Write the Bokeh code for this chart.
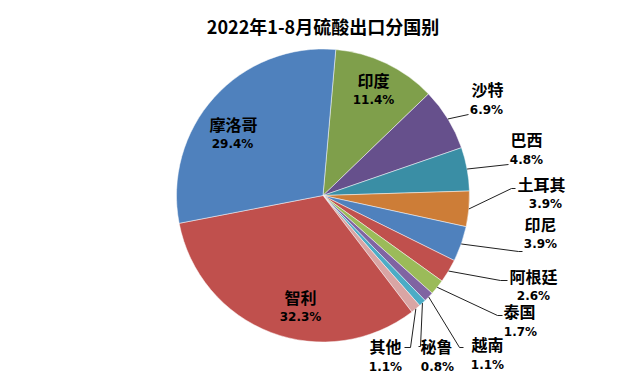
import math
from bokeh.plotting import figure
from bokeh.models import Range1d, ColumnDataSource
from bokeh.embed import file_html
from bokeh.resources import INLINE
from bokeh.core.properties import value

# ---- data (clockwise from the top) ----
countries = ["印度", "沙特", "巴西", "土耳其", "印尼", "阿根廷", "泰国", "越南", "秘鲁", "其他", "智利", "摩洛哥"]
shares = [11.4, 6.9, 4.8, 3.9, 3.9, 2.6, 1.7, 1.1, 0.8, 1.1, 32.3, 29.4]
colors = ["#7F9F4B", "#66508C", "#3A8EA5", "#CD7D37", "#4F81BD", "#C0504D",
          "#9BBB59", "#8064A2", "#4BACC6", "#D9A5A4", "#C0504D", "#4F81BD"]
title_text = "2022年1-8月硫酸出口分国别"

# ---- layout (page pixel coordinates of the reference) ----
W, H = 624, 378
def X(xr): return xr
def Y(yr): return H - yr

CX, CY, R = 322.5, 195.0, 146.5
START_DEG = 5.0

# label centres (name line, percent line) in page px
label_pos = {
    "印度": (373, 79, 373, 99),
    "沙特": (487, 88, 486, 109),
    "巴西": (526, 138, 526, 159),
    "土耳其": (541, 183, 545, 203),
    "印尼": (540, 223, 540, 243),
    "阿根廷": (533, 275, 533, 295),
    "泰国": (519, 310, 520, 331),
    "越南": (487, 343, 487, 364),
    "秘鲁": (436, 345, 437, 366),
    "其他": (385, 345, 385, 366),
    "智利": (300, 296, 300, 316),
    "摩洛哥": (233, 123, 232, 143),
}
# leader elbow/end points in page px (labels not listed sit inside their slice)
leader_pts = {
    "沙特": [(468, 114)],
    "巴西": [(508, 164)],
    "土耳其": [(511, 188), (515, 188)],
    "印尼": [(518, 251), (522, 251)],
    "阿根廷": [(500, 280), (507, 280)],
    "泰国": [(497, 315), (502, 315)],
    "越南": [(459, 347), (463, 347)],
    "秘鲁": [(420, 346), (418, 346)],
    "其他": [(410, 347), (404, 347)],
}

total = sum(shares)
starts, ends, mids = [], [], []
cum = 0.0
for s in shares:
    a0 = START_DEG + 360.0 * cum / total
    a1 = START_DEG + 360.0 * (cum + s) / total
    starts.append(math.radians(90 - a1))
    ends.append(math.radians(90 - a0))
    mids.append((a0 + a1) / 2)
    cum += s

p = figure(width=W, height=H, x_range=Range1d(0, W), y_range=Range1d(0, H),
           output_backend="svg", toolbar_location=None, min_border=0,
           x_axis_location=None, y_axis_location=None, title=None)
p.grid.visible = False
p.outline_line_color = None
p.background_fill_color = "white"
p.border_fill_color = "white"

src = ColumnDataSource(dict(start=starts, end=ends, color=colors, name=countries, share=shares))
p.wedge(x=X(CX), y=Y(CY), radius=R, start_angle="start", end_angle="end",
        fill_color="color", line_color="white", line_width=0.8, line_alpha=0.6, source=src)

# leader lines
xs, ys = [], []
for name, mid in zip(countries, mids):
    if name in leader_pts:
        sx = CX + R * math.sin(math.radians(mid))
        sy = CY - R * math.cos(math.radians(mid))
        pts = [(sx, sy)] + leader_pts[name]
        xs.append([X(a) for a, b in pts])
        ys.append([Y(b) for a, b in pts])
p.multi_line(xs=xs, ys=ys, line_color="#202020", line_width=1)

# labels
nx, ny, px, py, pct = [], [], [], [], []
for name, s in zip(countries, shares):
    a, b, c, d = label_pos[name]
    nx.append(X(a)); ny.append(Y(b)); px.append(X(c)); py.append(Y(d))
    pct.append(f"{s:.1f}%")
p.text(x=nx, y=ny, text=countries, text_font=value("Noto Sans CJK SC"), text_font_size="16px",
       text_font_style="bold", text_align="center", text_baseline="middle", text_color="black")
p.text(x=px, y=py, text=pct, text_font=value("DejaVu Sans"), text_font_size="12px",
       text_font_style="bold", text_align="center", text_baseline="middle", text_color="black")

# title
p.text(x=[X(322.5)], y=[Y(25)], text=[title_text], text_font=value("Noto Sans CJK SC"),
       text_font_size="18px", text_font_style="bold", text_align="center",
       text_baseline="middle", text_color="black")

open("out.html", "w").write(file_html(p, INLINE))
